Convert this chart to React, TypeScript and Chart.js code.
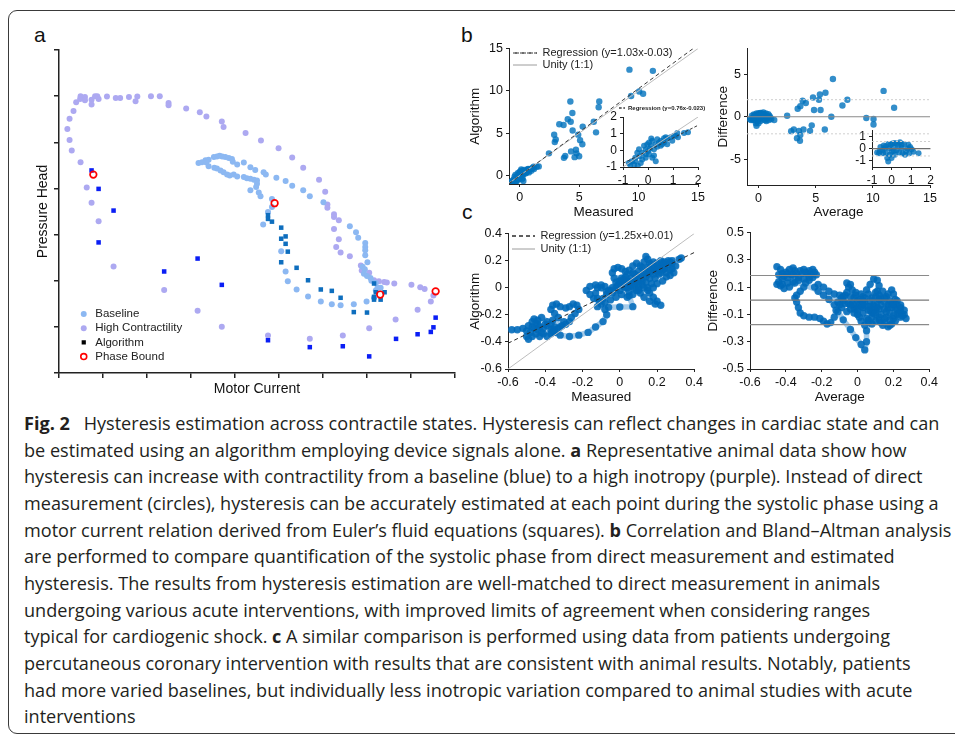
import React, { useEffect, useRef } from 'react';
import { Chart, registerables } from 'chart.js';

Chart.register(...registerables);

type P = [number, number];

/* ---------------- panel a : hysteresis loops ---------------- */
const aXTicks = [0, 1, 2, 3, 4, 5, 6, 7, 8, 9];
const aYTicks = [0, 1, 2, 3, 4, 5, 6, 7];
const aXTitle = 'Motor Current';
const aYTitle = 'Pressure Head';

const aHighContractility: P[] = [
  [0.24, 5.05], [0.19, 5.29], [0.24, 5.51], [0.33, 5.68], [0.39, 5.87], [0.48, 5.94], [0.49, 6.0], [0.59, 5.98],
  [0.59, 5.91], [0.74, 5.92], [0.74, 5.82], [0.82, 6.0], [0.87, 6.0], [0.9, 5.94], [1.09, 5.99], [1.29, 5.96],
  [1.39, 5.96], [1.59, 5.98], [1.74, 5.89], [1.78, 5.99], [2.09, 6.0], [2.29, 6.0], [2.49, 5.85], [2.49, 5.8],
  [2.89, 5.73], [3.2, 5.65], [3.35, 5.56], [3.7, 5.45], [3.74, 5.33], [4.24, 5.2], [4.59, 5.04], [4.99, 4.87],
  [5.3, 4.67], [5.55, 4.45], [5.91, 4.19], [6.05, 3.93], [6.1, 3.65], [6.1, 3.58], [6.25, 3.44], [6.25, 3.38],
  [6.36, 3.31], [6.25, 3.12], [6.36, 2.9], [6.3, 2.73], [6.4, 2.61], [6.61, 2.53], [6.86, 2.33], [6.88, 2.22],
  [7.05, 2.17], [7.16, 2.01], [7.27, 1.99], [7.39, 1.97], [7.45, 1.96], [7.62, 1.94], [8.01, 1.91], [8.21, 1.86],
  [8.31, 1.82], [8.51, 1.68], [8.45, 1.55], [8.15, 1.37], [7.65, 1.16], [7.05, 0.97], [6.45, 0.81], [5.7, 0.74],
  [4.75, 0.81], [3.7, 1.0], [3.15, 1.35], [2.39, 1.8], [1.24, 2.31], [0.9, 3.29], [0.74, 3.69], [0.63, 4.02],
  [0.49, 4.57], [0.29, 4.82],
];

const aBaseline: P[] = [
  [3.17, 4.55], [3.25, 4.57], [3.33, 4.61], [3.4, 4.62], [3.35, 4.56], [3.52, 4.68], [3.59, 4.69], [3.65, 4.71],
  [3.71, 4.69], [3.78, 4.68], [3.86, 4.66], [3.93, 4.64], [3.95, 4.58], [4.05, 4.52], [4.2, 4.56], [4.35, 4.46],
  [4.46, 4.4], [4.65, 4.35], [4.7, 4.3], [4.94, 4.23], [5.15, 4.16], [5.3, 4.06], [5.55, 3.96], [5.7, 3.83],
  [6.01, 3.7], [6.61, 3.18], [6.75, 3.05], [6.8, 2.93], [6.96, 2.82], [6.96, 2.73], [6.96, 2.66], [6.96, 2.55],
  [7.01, 2.4], [6.9, 2.3], [6.95, 2.25], [6.93, 2.15], [7.0, 2.1], [7.08, 2.06], [7.1, 2.0], [7.2, 1.95],
  [7.24, 1.85], [7.31, 1.85], [7.2, 1.79],
  [3.4, 4.48], [3.53, 4.45], [3.59, 4.43], [3.67, 4.39], [3.74, 4.35], [3.82, 4.3], [3.88, 4.28], [3.97, 4.3],
  [4.05, 4.26], [4.2, 4.25], [4.27, 4.22], [4.35, 4.21], [4.43, 4.19], [4.5, 4.17], [4.5, 4.1], [4.48, 4.03],
  [4.35, 3.96], [4.54, 3.91], [4.58, 3.83], [4.84, 3.77], [4.84, 3.6], [4.75, 3.49], [4.64, 3.22], [5.05, 2.64],
  [5.15, 2.2], [5.2, 1.99], [5.4, 1.81], [5.66, 1.66], [5.95, 1.55], [6.2, 1.49], [6.4, 1.47], [6.7, 1.49],
  [6.99, 1.55], [7.16, 1.63],
];

const aAlgorithmHigh: P[] = [
  [0.74, 4.39], [0.9, 3.99], [1.24, 3.52], [0.9, 2.83], [2.39, 2.2], [3.15, 2.48], [3.7, 1.91], [4.75, 0.71],
  [5.7, 0.56], [6.45, 0.58], [7.05, 0.36], [7.66, 0.74], [8.15, 0.84], [8.45, 0.89], [8.51, 0.99], [8.56, 1.2],
];

const aAlgorithmBaseline: P[] = [
  [4.75, 3.42], [4.75, 3.34], [4.84, 3.28], [5.05, 3.15], [5.05, 2.91], [5.15, 2.96], [5.15, 2.8], [5.2, 2.63],
  [5.05, 2.4], [5.4, 2.28], [5.66, 2.01], [5.95, 1.81], [6.2, 1.78], [6.4, 1.63], [6.7, 1.32], [7.0, 1.31],
  [7.16, 1.94], [7.16, 1.65], [7.16, 1.59], [7.2, 1.75], [7.31, 1.59], [7.4, 1.75],
];

const aPhaseBound: P[] = [[0.78, 4.3], [4.9, 3.68], [7.3, 1.7], [8.56, 1.77]];

const aLegendLabels = ['Baseline', 'High Contractility', 'Algorithm', 'Phase Bound'];

/* ---------------- panel b : correlation ---------------- */
const bTicks = [0, 5, 10, 15];
const bScatter: P[] = [
  [9.23, 12.5], [11.2, 12.36], [9.37, 9.39], [10.05, 9.92], [10.38, 9.66], [4.26, 8.75], [6.69, 8.75], [6.64, 8.06],
  [4.43, 7.38], [4.04, 6.65], [4.29, 6.35], [3.69, 5.97], [3.33, 6.05], [6.23, 6.35], [5.3, 5.78], [4.45, 5.32],
  [6.42, 5.1], [2.9, 4.83], [3.03, 4.26], [2.95, 3.95], [4.92, 4.83], [5.08, 4.18], [5.27, 3.69], [4.32, 2.85],
  [4.73, 3.04], [4.78, 2.62], [3.83, 2.32], [3.72, 2.09], [4.62, 2.17], [5.0, 2.28], [2.46, 2.62],
];
const bCluster: P[] = [
  [-0.77, -0.76], [-0.64, -0.65], [-0.55, -0.86], [-0.41, -0.92], [-0.51, -0.45], [-0.33, -0.35], [-0.23, -0.14],
  [-0.09, 0.06], [-0.16, 0.27], [-0.03, 0.37], [0.11, 0.27], [0.17, 0.57], [0.24, 0.06], [0.31, 0.37], [0.37, 0.67],
  [0.51, 0.57], [0.64, 0.47], [0.77, 0.71], [0.91, 0.78], [1.11, 0.88], [1.17, 1.04], [1.44, 1.04], [1.6, 1.08],
  [-0.23, -0.55], [-0.09, -0.45], [0.04, -0.24], [0.17, -0.45], [0.31, -0.65], [0.24, -0.31], [-0.36, 0.06],
  [-0.43, -0.14], [0.04, 0.47], [0.13, 0.71], [0.51, 0.27], [0.71, 0.78], [0.97, 0.57], [1.04, 0.88],
  [-0.51, -0.65], [-0.71, -0.86], [-0.29, -0.76], [-0.09, -0.24], [0.0, -0.04], [0.08, 0.1], [0.37, 0.22],
  [0.57, 0.37], [0.77, 0.37], [1.2, 0.78], [0.64, 0.73], [0.44, 0.47],
];
const bRegression: P[] = [[-0.9, -0.96], [15, 15.42]];
const bUnity: P[] = [[-1, -1], [15, 15]];
const bLegendLabels = ['Regression (y=1.03x-0.03)', 'Unity (1:1)'];

const bInsetTicks = [-1, 0, 1, 2];
const bInsetRegression: P[] = [[-1, -0.78], [2, 1.5]];
const bInsetUnity: P[] = [[-1, -1], [2, 2]];
const bInsetLegendLabels = ['Regression (y=0.76x-0.023)'];

/* ---------------- panel b : Bland–Altman ---------------- */
const baXTicks = [0, 5, 10, 15];
const baYTicks = [-5, 0, 5];
const baScatter: P[] = [
  [6.51, 4.42], [10.94, 3.03], [5.86, 2.81], [5.37, 2.62], [4.77, 2.25], [3.86, 1.87], [4.14, 1.61], [5.29, 1.99],
  [7.77, 1.99], [7.34, 1.31], [3.66, 1.24], [3.43, 0.94], [4.86, 0.79], [5.43, 0.79], [11.86, 1.05], [2.51, 0.11],
  [6.37, 0.0], [9.43, -0.15], [10.06, -0.26], [10.06, -0.9], [4.66, -1.01], [3.94, -1.5], [3.09, -1.5],
  [2.86, -1.69], [3.54, -1.65], [4.51, -1.65], [5.8, -1.5], [3.66, -2.13], [3.37, -2.51], [3.63, -2.81],
];
const baCluster: P[] = [
  [-0.74, -0.31], [-0.64, -0.38], [-0.57, 0.13], [-0.47, -0.13], [-0.4, 0.26], [-0.29, -0.38], [-0.22, -0.77],
  [-0.17, -1.05], [-0.12, 0], [-0.05, 0.31], [0, -0.26], [0.09, 0.13], [0.17, 0.46], [0.26, -0.13], [0.34, 0.26],
  [0.43, 0.51], [0.52, 0.05], [0.57, -0.38], [0.64, 0.38], [0.74, -0.21], [0.81, 0], [0.91, -0.38], [1.03, -0.05],
  [1.12, -0.26], [1.38, -0.38], [-0.29, 0.2], [-0.16, 0.38], [0.05, 0.41], [0.29, 0.38], [-0.43, -0.38],
  [-0.09, -0.51], [0.17, -0.51], [0.4, -0.31], [0.52, 0.31], [0.86, 0.31], [0.69, -0.51], [-0.6, -0.2],
  [-0.34, 0], [0.12, -0.2], [0, -0.77], [0.95, 0.13],
];
const baMean = 0;
const baUpper = 2;
const baLower = -2;
const baInsetXTicks = [-1, 0, 1, 2];
const baInsetYTicks = [-1, 0, 1];
const baInsetMean = 0;
const baInsetUpper = 0.58;
const baInsetLower = -0.6;

/* ---------------- panel c : patients ---------------- */
const cTicks = [-0.6, -0.4, -0.2, 0, 0.2, 0.4];
const cLegendLabels = ['Regression (y=1.25x+0.01)', 'Unity (1:1)'];
const cRegression: P[] = [[-0.6, -0.41], [0.4, 0.26]];
const cUnity: P[] = [[-0.6, -0.6], [0.4, 0.4]];
const cTrajectory: P[] = [
  [-0.58, -0.31], [-0.55, -0.31], [-0.52, -0.3], [-0.49, -0.28], [-0.47, -0.25], [-0.46, -0.23], [-0.44, -0.24],
  [-0.44, -0.27], [-0.46, -0.3], [-0.48, -0.33], [-0.5, -0.36], [-0.49, -0.38], [-0.47, -0.36], [-0.45, -0.34],
  [-0.43, -0.36], [-0.42, -0.33], [-0.41, -0.3], [-0.39, -0.28], [-0.37, -0.27], [-0.35, -0.29], [-0.36, -0.32],
  [-0.37, -0.34], [-0.35, -0.33], [-0.33, -0.3], [-0.31, -0.28], [-0.3, -0.25],
  [-0.5, -0.32], [-0.47, -0.29], [-0.44, -0.31], [-0.41, -0.34], [-0.39, -0.36], [-0.37, -0.31], [-0.39, -0.25],
  [-0.42, -0.22], [-0.45, -0.26], [-0.43, -0.29], [-0.4, -0.27], [-0.36, -0.24],
  [-0.33, -0.22], [-0.35, -0.19], [-0.37, -0.16], [-0.36, -0.13], [-0.34, -0.12], [-0.32, -0.14], [-0.29, -0.15],
  [-0.27, -0.14], [-0.25, -0.12], [-0.23, -0.13], [-0.22, -0.16], [-0.24, -0.19], [-0.26, -0.22], [-0.27, -0.25],
  [-0.29, -0.27], [-0.32, -0.29], [-0.35, -0.31],
  [-0.36, -0.33], [-0.32, -0.35], [-0.27, -0.36], [-0.22, -0.35], [-0.17, -0.33], [-0.13, -0.29], [-0.09, -0.25],
  [-0.07, -0.2], [-0.08, -0.16],
  [-0.1, -0.12], [-0.12, -0.08], [-0.13, -0.04], [-0.12, 0.0], [-0.1, 0.02], [-0.08, 0.01], [-0.06, -0.02],
  [-0.04, -0.04], [-0.02, -0.02], [-0.01, 0.02], [0.0, 0.05], [0.02, 0.03], [0.03, 0.0], [0.05, -0.03],
  [0.06, 0.01], [0.05, 0.05], [0.03, 0.08],
  [-0.03, 0.07], [-0.04, 0.11], [-0.03, 0.14], [-0.01, 0.15], [0.01, 0.14], [0.03, 0.12], [0.05, 0.13],
  [0.07, 0.11], [0.09, 0.08], [0.1, 0.05], [0.12, 0.07], [0.13, 0.11], [0.12, 0.15], [0.13, 0.19], [0.14, 0.23],
  [0.15, 0.21], [0.16, 0.18], [0.18, 0.19], [0.2, 0.18], [0.22, 0.2], [0.24, 0.19], [0.26, 0.17], [0.28, 0.14],
  [0.29, 0.11], [0.27, 0.09], [0.25, 0.11], [0.23, 0.13], [0.21, 0.1], [0.19, 0.07], [0.17, 0.03], [0.15, 0.0],
  [0.16, -0.04], [0.18, -0.07], [0.2, -0.1], [0.22, -0.13], [0.19, -0.12], [0.16, -0.1], [0.13, -0.07],
  [0.11, -0.04], [0.1, 0.0], [0.08, 0.03], [0.06, 0.07], [0.08, 0.1], [0.1, 0.12], [0.11, 0.16], [0.09, 0.18],
  [0.07, 0.16], [0.04, 0.1], [0.02, 0.06], [0.0, 0.03], [-0.02, 0.0], [-0.05, -0.02], [-0.07, -0.05],
  [-0.09, -0.08],
  [-0.12, -0.14], [-0.06, -0.145], [0.0, -0.142], [0.07, -0.14],
  [0.05, -0.06], [0.04, 0.0], [0.08, 0.05], [0.15, 0.1], [0.22, 0.15], [0.27, 0.19], [0.32, 0.21], [0.33, 0.22],
  [0.28, 0.2], [0.24, 0.17], [0.2, 0.14], [0.17, 0.12], [0.14, 0.08], [0.12, 0.02], [0.09, -0.02], [0.05, 0.02],
  [0.02, 0.04],
  [0.0, -0.02], [0.02, 0.01], [0.04, 0.04], [0.06, 0.02], [0.08, 0.0], [0.1, 0.03], [0.12, 0.05], [0.14, 0.04],
  [0.16, 0.07], [0.18, 0.1], [0.2, 0.12], [0.22, 0.11], [0.24, 0.14], [0.22, 0.16], [0.19, 0.15], [0.17, 0.13],
  [0.15, 0.15], [0.17, 0.17], [0.2, 0.16], [0.23, 0.18], [0.26, 0.2], [0.28, 0.18], [0.3, 0.16], [0.27, 0.13],
  [0.25, 0.08], [0.23, 0.05], [0.2, 0.03], [0.18, 0.0], [0.15, -0.02], [0.13, 0.0], [0.1, -0.02], [0.07, -0.05],
  [0.04, -0.07], [0.01, -0.05], [-0.02, -0.07], [-0.05, -0.09], [-0.08, -0.11], [-0.11, -0.1], [-0.14, -0.08],
  [-0.16, -0.05], [-0.18, -0.02], [-0.16, 0.01], [-0.13, 0.02], [-0.1, 0.0], [-0.07, -0.03], [-0.04, 0.0],
  [-0.02, 0.04], [0.01, 0.07], [0.04, 0.05], [0.06, 0.04], [0.09, 0.06], [0.11, 0.09], [0.14, 0.12],
  [0.16, 0.14], [0.19, 0.13], [0.21, 0.14], [0.24, 0.16],
];

const caXTicks = [-0.6, -0.4, -0.2, 0, 0.2, 0.4];
const caYTicks = [-0.5, -0.3, -0.1, 0.1, 0.3, 0.5];
const caMean = 0.005;
const caUpper = 0.185;
const caLower = -0.175;
const caTrajectory: P[] = [
  [-0.45, 0.25], [-0.43, 0.23], [-0.42, 0.2], [-0.4, 0.21], [-0.38, 0.23], [-0.36, 0.24], [-0.35, 0.22],
  [-0.36, 0.19], [-0.39, 0.17], [-0.42, 0.16], [-0.44, 0.14], [-0.45, 0.12], [-0.43, 0.11], [-0.41, 0.09],
  [-0.38, 0.1], [-0.35, 0.13], [-0.33, 0.17], [-0.31, 0.2], [-0.29, 0.21], [-0.27, 0.22], [-0.25, 0.23],
  [-0.24, 0.21], [-0.23, 0.19], [-0.25, 0.17], [-0.27, 0.15], [-0.29, 0.13], [-0.3, 0.1], [-0.32, 0.07],
  [-0.34, 0.04], [-0.35, 0.02], [-0.34, -0.01], [-0.33, -0.05], [-0.32, -0.09], [-0.3, -0.11], [-0.27, -0.12],
  [-0.24, -0.12], [-0.21, -0.13], [-0.19, -0.15], [-0.17, -0.17], [-0.15, -0.16], [-0.13, -0.12], [-0.12, -0.07],
  [-0.13, -0.03], [-0.16, 0.01], [-0.19, 0.04], [-0.22, 0.07], [-0.24, 0.1], [-0.22, 0.12], [-0.19, 0.1],
  [-0.16, 0.07], [-0.13, 0.05], [-0.1, 0.04], [-0.08, 0.03], [-0.06, 0.06], [-0.05, 0.1], [-0.06, 0.13],
  [-0.04, 0.12], [-0.03, 0.08], [-0.01, 0.04], [0.01, 0.01], [0.03, 0.03], [0.05, 0.08], [0.07, 0.12],
  [0.09, 0.16], [0.11, 0.15], [0.12, 0.11], [0.11, 0.07], [0.1, 0.03], [0.12, 0.01], [0.15, 0.02], [0.17, 0.05],
  [0.19, 0.08], [0.2, 0.05], [0.21, 0.01], [0.2, -0.03], [0.22, -0.06], [0.24, -0.08], [0.26, -0.1],
  [0.27, -0.13], [0.25, -0.11], [0.22, -0.1], [0.2, -0.13], [0.19, -0.17], [0.17, -0.19], [0.14, -0.18],
  [0.12, -0.14], [0.1, -0.1], [0.08, -0.12], [0.06, -0.16], [0.04, -0.18], [0.02, -0.15], [0.0, -0.1],
  [-0.02, -0.06], [-0.04, -0.03], [-0.07, -0.02], [-0.1, -0.03], [-0.11, -0.08], [-0.08, -0.14], [-0.04, -0.21],
  [-0.01, -0.27], [0.02, -0.32], [0.04, -0.36], [0.05, -0.3], [0.05, -0.22], [0.06, -0.14], [0.07, -0.07],
  [0.09, -0.03], [0.11, -0.05], [0.13, -0.03], [0.15, -0.06], [0.17, -0.03], [0.18, -0.09], [0.16, -0.12],
  [0.13, -0.1], [0.1, -0.07], [0.07, -0.04], [0.04, -0.01], [0.02, -0.04], [0.0, -0.07], [-0.02, -0.03],
  [0.0, 0.0], [0.03, -0.05], [0.08, -0.09], [0.12, -0.06], [0.16, -0.08], [0.19, -0.05], [0.22, -0.03],
  [0.24, -0.05],
  [-0.08, 0.0], [-0.05, -0.02], [-0.02, 0.02], [0.01, -0.03], [0.03, 0.0], [0.05, -0.04], [0.07, 0.0],
  [0.09, -0.04], [0.11, -0.01], [0.13, 0.02], [0.15, -0.01], [0.17, -0.05], [0.19, -0.02], [0.21, -0.06],
  [0.23, -0.09], [0.2, -0.11], [0.18, -0.14], [0.15, -0.13], [0.13, -0.16], [0.1, -0.15], [0.08, -0.17],
  [0.05, -0.13], [0.03, -0.09], [0.01, -0.12], [-0.02, -0.09], [-0.04, -0.06], [-0.06, -0.08], [-0.09, -0.05],
  [-0.11, -0.01], [-0.09, 0.02], [-0.07, 0.04], [-0.04, 0.03], [-0.01, 0.06], [0.02, 0.05], [0.04, 0.02],
  [0.06, 0.05], [0.08, 0.02], [0.1, 0.06], [0.12, 0.04], [0.14, 0.07], [0.16, 0.03], [0.18, 0.0], [0.2, -0.02],
  [0.22, 0.0], [0.24, -0.03], [0.26, -0.07], [0.24, -0.12], [0.21, -0.15], [0.18, -0.18], [0.15, -0.16],
  [0.12, -0.12], [0.09, -0.09], [0.06, -0.07], [0.03, -0.03], [0.0, -0.05], [-0.03, -0.02],
  [-0.44, 0.19], [-0.41, 0.18], [-0.39, 0.2], [-0.37, 0.19], [-0.34, 0.2], [-0.32, 0.22], [-0.3, 0.23],
  [-0.28, 0.2], [-0.26, 0.19], [-0.27, 0.17], [-0.3, 0.16], [-0.33, 0.15], [-0.36, 0.14], [-0.39, 0.13],
  [-0.42, 0.12],
];

/* ---------------- caption ---------------- */
type Seg = { t: string; b?: boolean };
const captionLines: Seg[][] = [
  [{ t: 'Fig. 2', b: true }, { t: '\u2002\u00a0Hysteresis estimation across contractile states. Hysteresis can reflect changes in cardiac state and can' }],
  [{ t: 'be estimated using an algorithm employing device signals alone. ' }, { t: 'a', b: true }, { t: ' Representative animal data show how' }],
  [{ t: 'hysteresis can increase with contractility from a baseline (blue) to a high inotropy (purple). Instead of direct' }],
  [{ t: 'measurement (circles), hysteresis can be accurately estimated at each point during the systolic phase using a' }],
  [{ t: 'motor current relation derived from Euler\u2019s fluid equations (squares). ' }, { t: 'b', b: true }, { t: ' Correlation and Bland\u2013Altman analysis' }],
  [{ t: 'are performed to compare quantification of the systolic phase from direct measurement and estimated' }],
  [{ t: 'hysteresis. The results from hysteresis estimation are well-matched to direct measurement in animals' }],
  [{ t: 'undergoing various acute interventions, with improved limits of agreement when considering ranges' }],
  [{ t: 'typical for cardiogenic shock. ' }, { t: 'c', b: true }, { t: ' A similar comparison is performed using data from patients undergoing' }],
  [{ t: 'percutaneous coronary intervention with results that are consistent with animal results. Notably, patients' }],
  [{ t: 'had more varied baselines, but individually less inotropic variation compared to animal studies with acute' }],
  [{ t: 'interventions' }],
];

/* ---------------- styling helpers ---------------- */
const FONT = "'Liberation Sans', Arial, Helvetica, sans-serif";
const C_BASE = '#8CB8F2';
const C_HIGH = '#ADA9F1';
const C_ALG_HIGH = '#0A1EF5';
const C_ALG_BASE = '#0E6EBE';
const C_DOT = 'rgba(0,114,189,0.8)';

const toXY = (arr: P[]) => arr.map(([x, y]) => ({ x, y }));

function dots(label: string, arr: P[], o: { r: number; fill: string; stroke?: string; bw?: number; style?: string }) {
  return {
    label, data: toXY(arr), showLine: false,
    pointStyle: o.style ?? 'circle', pointRadius: o.r, pointHoverRadius: o.r,
    pointBackgroundColor: o.fill, pointBorderColor: o.stroke ?? o.fill, pointBorderWidth: o.bw ?? 0,
    backgroundColor: o.fill, borderColor: o.stroke ?? o.fill, borderWidth: o.bw ?? 0,
  };
}

function line(label: string, arr: P[], color: string, width: number, dash: number[] = []) {
  return {
    label, data: toXY(arr), showLine: true, borderColor: color, backgroundColor: color,
    borderWidth: width, borderDash: dash, pointRadius: 0, pointHoverRadius: 0, fill: false, tension: 0,
  };
}

function hLine(label: string, y: number, xmin: number, xmax: number, color: string, width: number, dash: number[] = []) {
  return line(label, [[xmin, y], [xmax, y]], color, width, dash);
}

function trail(label: string, arr: P[]) {
  return {
    label, data: toXY(arr), showLine: true, tension: 0,
    borderColor: 'rgba(30,125,200,0.4)', borderWidth: 5.5, borderJoinStyle: 'round', borderCapStyle: 'round',
    pointRadius: 3.7, pointHoverRadius: 3.7, pointBackgroundColor: 'rgba(0,106,186,0.85)', pointBorderWidth: 0,
    backgroundColor: 'rgba(0,106,186,0.85)',
  };
}

interface AxisSpec {
  min: number; max: number; ticks: number[]; size: number; labels?: boolean; title?: string;
  titleSize?: number; tickSize?: number; tickLen?: number; lineW?: number; pad?: number;
}

function axis(s: AxisSpec) {
  return {
    type: 'linear', min: s.min, max: s.max,
    afterBuildTicks: (sc: any) => { sc.ticks = s.ticks.map((v) => ({ value: v })); },
    afterFit: (sc: any) => { if (sc.isHorizontal()) sc.height = s.size; else sc.width = s.size; },
    grid: { drawOnChartArea: false, drawTicks: true, tickLength: s.tickLen ?? 3, color: '#222', lineWidth: s.lineW ?? 1 },
    border: { display: true, color: '#222', width: s.lineW ?? 1 },
    ticks: {
      display: s.labels !== false, autoSkip: false, maxRotation: 0, padding: s.pad ?? 3, color: '#111',
      font: { family: FONT, size: s.tickSize ?? 12.5 }, callback: (v: any) => String(v),
    },
    title: {
      display: !!s.title, text: s.title ?? '', color: '#111',
      font: { family: FONT, size: s.titleSize ?? 13.5 }, padding: { top: 4, bottom: 4 },
    },
  };
}

const legendPlacer = {
  id: 'legendPlacer',
  afterLayout(chart: any, _a: any, o: any) {
    const lg = chart.legend;
    if (!lg || !o || typeof o.x !== 'number') return;
    lg.left = o.x - o.pad;
    lg.top = o.y - o.fs / 2 - o.pad;
    lg.right = chart.width;
    lg.bottom = chart.height;
    lg.width = chart.width - lg.left;
    lg.height = chart.height - lg.top;
  },
};

function lineLegend(names: string[], fs: number, boxW: number, pad: number, bold = false) {
  return {
    display: true, position: 'chartArea', align: 'start',
    labels: {
      boxWidth: boxW, boxHeight: 0, padding: pad, color: '#222',
      font: { family: FONT, size: fs, weight: bold ? 'bold' : 'normal' },
      filter: (item: any) => names.includes(item.text),
    },
  };
}

function base(datasets: any[], scales: any, padding: any, legend: any, placer: any) {
  return {
    type: 'scatter',
    data: { datasets },
    options: {
      responsive: false, maintainAspectRatio: false, animation: false, devicePixelRatio: 1, events: [],
      layout: { padding },
      scales,
      plugins: { legend, tooltip: { enabled: false }, legendPlacer: placer },
    },
    plugins: [legendPlacer],
  };
}

/* ---------------- chart builders ---------------- */
function buildA() {
  const legendFill = [C_BASE, C_HIGH, '#000000', 'rgba(255,255,255,0)'];
  const legendStroke = [C_BASE, C_HIGH, '#000000', '#FF0000'];
  const legendLW = [0, 0, 0, 1.6];
  const legendStyle = ['circle', 'circle', 'rect', 'circle'];
  return base(
    [
      dots('Phase Bound', aPhaseBound, { r: 3.3, fill: 'rgba(255,255,255,0)', stroke: '#FF0000', bw: 1.7 }),
      dots('Algorithm high', aAlgorithmHigh, { r: 3.2, fill: C_ALG_HIGH, style: 'rect' }),
      dots('Algorithm baseline', aAlgorithmBaseline, { r: 3.2, fill: C_ALG_BASE, style: 'rect' }),
      dots('Baseline', aBaseline, { r: 3, fill: C_BASE }),
      dots('High Contractility', aHighContractility, { r: 3, fill: C_HIGH }),
    ],
    {
      x: axis({ min: 0, max: 9, ticks: aXTicks, size: 29, labels: false, title: aXTitle, titleSize: 14, tickLen: 5, lineW: 1.5 }),
      y: axis({ min: 0, max: 7, ticks: aYTicks, size: 28, labels: false, title: aYTitle, titleSize: 14, tickLen: 5, lineW: 1.5 }),
    },
    { top: 5, right: 5, left: 0, bottom: 0 },
    {
      display: true, position: 'chartArea', align: 'start',
      labels: {
        usePointStyle: true, boxHeight: 4.2, padding: 2.7, color: '#222', font: { family: FONT, size: 11.5 },
        generateLabels: () => aLegendLabels.map((text, i) => ({
          text, fillStyle: legendFill[i], strokeStyle: legendStroke[i], lineWidth: legendLW[i],
          pointStyle: legendStyle[i], hidden: false, fontColor: '#222', datasetIndex: i, borderRadius: 0,
        })),
      },
    },
    { x: 47, y: 269, fs: 11.5, pad: 2.7 },
  );
}

function buildB() {
  return base(
    [
      line(bLegendLabels[0], bRegression, '#3a3a3a', 1, [4, 3]),
      line(bLegendLabels[1], bUnity, '#bdbdbd', 1),
      dots('high', bScatter, { r: 3.2, fill: C_DOT }),
      dots('cluster', bCluster, { r: 3.2, fill: C_DOT }),
    ],
    {
      x: axis({ min: -0.9, max: 15, ticks: bTicks, size: 40, title: 'Measured' }),
      y: axis({ min: -1, max: 15, ticks: bTicks, size: 46, title: 'Algorithm' }),
    },
    { top: 6, right: 6, left: 0, bottom: 0 },
    lineLegend(bLegendLabels, 11, 24, 1),
    { x: 50, y: 15, fs: 11, pad: 1 },
  );
}

function buildBInset() {
  return base(
    [
      line(bInsetLegendLabels[0], bInsetRegression, '#3a3a3a', 1, [3, 2]),
      line('unity', bInsetUnity, '#bdbdbd', 1),
      dots('cluster', bCluster, { r: 3, fill: C_DOT }),
    ],
    {
      x: axis({ min: -1, max: 2, ticks: bInsetTicks, size: 23, tickSize: 12 }),
      y: axis({ min: -1, max: 2, ticks: bInsetTicks, size: 28, tickSize: 12 }),
    },
    { top: 17, right: 7, left: 0, bottom: 0 },
    lineLegend(bInsetLegendLabels, 6, 6, 1, true),
    { x: 24, y: 8, fs: 6, pad: 1 },
  );
}

function buildBA() {
  return base(
    [
      hLine('mean', baMean, -1, 15, '#8a8a8a', 1.2),
      hLine('upper', baUpper, -1, 15, '#cfcfcf', 1, [2, 2]),
      hLine('lower', baLower, -1, 15, '#cfcfcf', 1, [2, 2]),
      dots('high', baScatter, { r: 3.2, fill: C_DOT }),
      dots('cluster', baCluster, { r: 3.2, fill: C_DOT }),
    ],
    {
      x: axis({ min: -1, max: 15, ticks: baXTicks, size: 39, title: 'Average' }),
      y: axis({ min: -8, max: 8, ticks: baYTicks, size: 36, title: 'Difference' }),
    },
    { top: 5, right: 6, left: 0, bottom: 0 },
    { display: false },
    {},
  );
}

function buildBAInset() {
  return base(
    [
      hLine('mean', baInsetMean, -1, 2, '#6f6f6f', 1.2),
      hLine('upper', baInsetUpper, -1, 2, '#cfcfcf', 1, [2, 2]),
      hLine('lower', baInsetLower, -1, 2, '#cfcfcf', 1, [2, 2]),
      dots('cluster', baCluster, { r: 3, fill: C_DOT }),
    ],
    {
      x: axis({ min: -1, max: 2, ticks: baInsetXTicks, size: 23, tickSize: 12 }),
      y: axis({ min: -1.5, max: 1.5, ticks: baInsetYTicks, size: 27, tickSize: 12 }),
    },
    { top: 7, right: 5, left: 0, bottom: 0 },
    { display: false },
    {},
  );
}

function buildC() {
  return base(
    [
      line(cLegendLabels[0], cRegression, '#2a2a2a', 1, [4, 3]),
      line(cLegendLabels[1], cUnity, '#bdbdbd', 1),
      trail('patients', cTrajectory),
    ],
    {
      x: axis({ min: -0.6, max: 0.4, ticks: cTicks, size: 40, title: 'Measured' }),
      y: axis({ min: -0.6, max: 0.4, ticks: cTicks, size: 45, title: 'Algorithm' }),
    },
    { top: 6, right: 6, left: 0, bottom: 0 },
    lineLegend(cLegendLabels, 11, 23, 2),
    { x: 49, y: 13, fs: 11, pad: 2 },
  );
}

function buildCA() {
  return base(
    [
      hLine('mean', caMean, -0.6, 0.4, '#7a7a7a', 1.2),
      hLine('upper', caUpper, -0.6, 0.4, '#8a8a8a', 1.2),
      hLine('lower', caLower, -0.6, 0.4, '#8a8a8a', 1.2),
      trail('patients', caTrajectory),
    ],
    {
      x: axis({ min: -0.6, max: 0.4, ticks: caXTicks, size: 40, title: 'Average' }),
      y: axis({ min: -0.5, max: 0.5, ticks: caYTicks, size: 49, title: 'Difference' }),
    },
    { top: 6, right: 6, left: 0, bottom: 0 },
    { display: false },
    {},
  );
}

/* ---------------- components ---------------- */
type Box = { left: number; top: number; width: number; height: number };

function ChartCanvas({ box, build }: { box: Box; build: () => any }) {
  const ref = useRef<HTMLCanvasElement | null>(null);
  useEffect(() => {
    if (!ref.current) return;
    const chart = new Chart(ref.current, build());
    return () => chart.destroy();
  }, []);
  return (
    <canvas
      ref={ref}
      width={box.width}
      height={box.height}
      style={{ position: 'absolute', left: box.left, top: box.top, width: box.width, height: box.height }}
    />
  );
}

const panelLabel = (left: number, top: number): React.CSSProperties => ({
  position: 'absolute', left, top, fontFamily: FONT, fontSize: 21, lineHeight: '21px', color: '#111',
});

export default function App() {
  return (
    <div style={{ position: 'absolute', left: 0, top: 0, width: 955, height: 734, overflow: 'hidden', background: '#fff' }}>
      <div
        style={{
          position: 'absolute', left: 8, top: 10, width: 1000, height: 722,
          border: '1px solid #3a3a3a', borderRadius: '9px 0 0 9px',
        }}
      />
      <div style={panelLabel(34, 24)}>a</div>
      <div style={panelLabel(461, 24)}>b</div>
      <div style={panelLabel(462, 201)}>c</div>

      <ChartCanvas box={{ left: 31, top: 45, width: 429, height: 357 }} build={buildA} />
      <ChartCanvas box={{ left: 463, top: 38, width: 245, height: 186 }} build={buildB} />
      <ChartCanvas box={{ left: 711, top: 38, width: 229, height: 186 }} build={buildBA} />
      <ChartCanvas box={{ left: 463, top: 223, width: 243, height: 186 }} build={buildC} />
      <ChartCanvas box={{ left: 701, top: 222, width: 240, height: 187 }} build={buildCA} />
      <ChartCanvas box={{ left: 595, top: 100, width: 110, height: 90 }} build={buildBInset} />
      <ChartCanvas box={{ left: 845, top: 120, width: 92, height: 70 }} build={buildBAInset} />

      <div
        style={{
          position: 'absolute', left: 24, top: 410, fontFamily: "'Open Sans', 'Noto Sans', sans-serif",
          fontSize: 18.1, lineHeight: '26.67px', color: '#231f20', whiteSpace: 'nowrap',
        }}
      >
        {captionLines.map((segs, i) => (
          <div key={i}>
            {segs.map((s, j) => (s.b ? <b key={j}>{s.t}</b> : <span key={j}>{s.t}</span>))}
          </div>
        ))}
      </div>
    </div>
  );
}
